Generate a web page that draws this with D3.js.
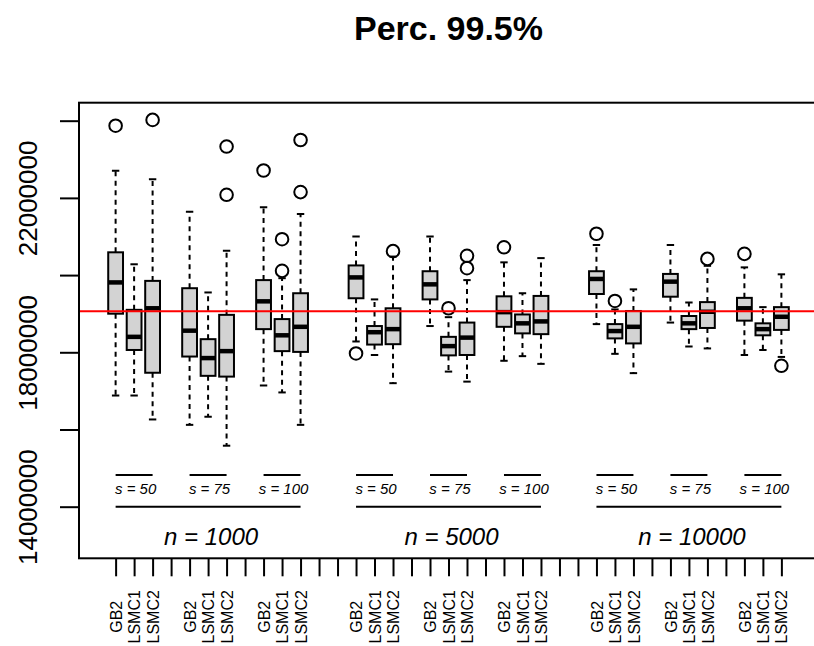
<!DOCTYPE html>
<html>
<head>
<meta charset="utf-8">
<script src="https://cdn.jsdelivr.net/npm/d3@7"></script>
<style>
  html, body { margin: 0; padding: 0; background: #fff; }
  svg { display: block; font-family: "Liberation Sans", Arial, sans-serif; }
</style>
</head>
<body>
<svg id="chart" width="814" height="646"></svg>
<script>
// ---------- data (values in millions) ----------
const title = "Perc. 99.5%";
const methods = ["GB2", "LSMC1", "LSMC2"];
const sValues = [50, 75, 100];
const nValues = [1000, 5000, 10000];

// order: n=1000 (s=50: GB2,LSMC1,LSMC2; s=75 ...; s=100 ...), n=5000 ..., n=10000 ...
const whiskerLow  = [16.88,16.88,16.26, 16.12,16.33,15.58, 17.14,16.96,16.12,
                     18.28,17.93,17.20, 18.68,17.50,17.24, 17.78,17.90,17.70,
                     18.73,17.96,17.46, 18.77,18.15,18.10, 17.93,18.06,17.88];
const lowerQuart  = [19.00,18.06,17.47, 17.89,17.39,17.37, 18.60,18.03,18.01,
                     19.40,18.20,18.21, 19.37,17.92,17.93, 18.66,18.49,18.47,
                     19.51,18.36,18.23, 19.44,18.60,18.63, 18.82,18.44,18.58];
const medians     = [19.81,18.40,19.14, 18.56,17.85,18.03, 19.32,18.44,18.66,
                     19.94,18.52,18.60, 19.76,18.16,18.38, 19.04,18.75,18.80,
                     19.90,18.55,18.66, 19.83,18.75,19.05, 19.14,18.60,18.92];
const upperQuart  = [20.59,19.10,19.85, 19.66,18.34,18.97, 19.87,18.86,19.53,
                     20.25,18.68,19.14, 20.10,18.40,18.77, 19.45,18.98,19.46,
                     20.10,18.73,19.07, 20.03,18.94,19.30, 19.41,18.75,19.17];
const whiskerHigh = [22.70,20.28,22.48, 21.64,19.55,20.63, 21.76,19.92,21.58,
                     21.00,19.37,20.48, 21.00,18.91,19.87, 20.33,19.53,20.44,
                     20.78,19.11,19.63, 20.78,19.29,20.24, 20.20,19.17,20.02];
const outliers    = [[23.87],[],[24.02], [],[],[23.33,22.08], [22.71],[20.93,20.11],[23.50,22.15],
                     [17.97],[],[20.62], [],[19.14],[20.50,20.18], [20.72],[],[],
                     [21.07],[19.33],[], [],[],[20.42], [20.55],[],[17.65]];
const referenceValue = 19.06;

const yTickValues = [14, 16, 18, 20, 22, 24];
const yTickLabels = ["14000000", "", "18000000", "", "22000000", ""];

// ---------- layout ----------
const SC = 1e6;
const svg = d3.select("#chart");
const pL = 79, pR = 818, pT = 102.7, pB = 558.3;
const nPos = 37;
const pad = nPos * 0.04;
const x = d3.scaleLinear().domain([0.5 - pad, nPos + 0.5 + pad]).range([pL, pR]);
const y = d3.scaleLinear().domain([12.663 * SC, 24.466 * SC]).range([pB, pT]);
const font = '"Liberation Sans", Arial, sans-serif';

// box records
const boxes = [];
nValues.forEach((n, ni) => sValues.forEach((s, si) => methods.forEach((m, mi) => {
  const i = ni * 9 + si * 3 + mi;
  boxes.push({
    pos: 1 + ni * 13 + si * 4 + mi, method: m,
    lo: whiskerLow[i] * SC, q1: lowerQuart[i] * SC, med: medians[i] * SC,
    q3: upperQuart[i] * SC, hi: whiskerHigh[i] * SC, out: outliers[i].map(v => v * SC)
  });
})));
const labelAt = new Map(boxes.map(b => [b.pos, b.method]));

// title
svg.append("text").attr("x", (pL + pR) / 2).attr("y", 40)
  .attr("text-anchor", "middle").attr("font-weight", "bold").attr("font-size", 34)
  .attr("font-family", font).text(title);

// clip for plot region
svg.append("clipPath").attr("id", "clip").append("rect")
  .attr("x", pL).attr("y", pT).attr("width", pR - pL).attr("height", pB - pT);

const plot = svg.append("g").attr("clip-path", "url(#clip)");

const bw = (x(2) - x(1)) * 0.8;
const g = plot.selectAll("g.box").data(boxes).join("g").attr("class", "box");

// whiskers
g.append("line").attr("x1", d => x(d.pos)).attr("x2", d => x(d.pos))
  .attr("y1", d => y(d.q3)).attr("y2", d => y(d.hi))
  .attr("stroke", "#000").attr("stroke-width", 2).attr("stroke-dasharray", "5,4.5");
g.append("line").attr("x1", d => x(d.pos)).attr("x2", d => x(d.pos))
  .attr("y1", d => y(d.q1)).attr("y2", d => y(d.lo))
  .attr("stroke", "#000").attr("stroke-width", 2).attr("stroke-dasharray", "5,4.5");
// staples
["hi", "lo"].forEach(k => {
  g.append("line").attr("x1", d => x(d.pos) - bw / 4).attr("x2", d => x(d.pos) + bw / 4)
    .attr("y1", d => y(d[k])).attr("y2", d => y(d[k]))
    .attr("stroke", "#000").attr("stroke-width", 2);
});
// box
g.append("rect").attr("x", d => x(d.pos) - bw / 2).attr("width", bw)
  .attr("y", d => y(d.q3)).attr("height", d => y(d.q1) - y(d.q3))
  .attr("fill", "#d3d3d3").attr("stroke", "#000").attr("stroke-width", 2);
// median
g.append("line").attr("x1", d => x(d.pos) - bw / 2).attr("x2", d => x(d.pos) + bw / 2)
  .attr("y1", d => y(d.med)).attr("y2", d => y(d.med))
  .attr("stroke", "#000").attr("stroke-width", 4.5);
// outliers
g.selectAll("circle").data(d => d.out.map(v => ({ pos: d.pos, v }))).join("circle")
  .attr("cx", d => x(d.pos)).attr("cy", d => y(d.v)).attr("r", 6.3)
  .attr("fill", "none").attr("stroke", "#000").attr("stroke-width", 2);

// reference line
plot.append("line").attr("x1", pL).attr("x2", pR)
  .attr("y1", y(referenceValue * SC)).attr("y2", y(referenceValue * SC))
  .attr("stroke", "#ff0000").attr("stroke-width", 2);

// group annotations
const ann = svg.append("g").attr("font-family", font).attr("font-style", "italic");
nValues.forEach((n, ni) => {
  sValues.forEach((s, si) => {
    const p0 = 1 + ni * 13 + si * 4;
    ann.append("line").attr("x1", x(p0)).attr("x2", x(p0 + 2))
      .attr("y1", 475).attr("y2", 475).attr("stroke", "#000").attr("stroke-width", 2);
    ann.append("text").attr("x", x(p0 + 1) + 1.5).attr("y", 494).attr("text-anchor", "middle")
      .attr("font-size", 15).text("s = " + s);
  });
  const q0 = 1 + ni * 13;
  ann.append("line").attr("x1", x(q0)).attr("x2", x(q0 + 10))
    .attr("y1", 506.7).attr("y2", 506.7).attr("stroke", "#000").attr("stroke-width", 2);
  ann.append("text").attr("x", x(q0 + 5) + 3).attr("y", 545).attr("text-anchor", "middle")
    .attr("font-size", 24).text("n = " + n);
});

// axes
const yAxis = d3.axisLeft(y).tickValues(yTickValues.map(v => v * SC))
  .tickSize(19).tickSizeOuter(0)
  .tickFormat((d, i) => yTickLabels[i]);
const ya = svg.append("g").attr("transform", `translate(${pL},0)`).call(yAxis);
ya.select(".domain").remove();
ya.selectAll(".tick line").attr("stroke-width", 2);
ya.selectAll(".tick text").attr("x", 0).attr("dy", null)
  .attr("transform", "translate(-42,0) rotate(-90)")
  .attr("text-anchor", "middle").attr("font-size", 26).attr("font-family", font).attr("fill", "#000");

const xAxis = d3.axisBottom(x).tickValues(d3.range(1, nPos + 1))
  .tickSize(18).tickSizeOuter(0)
  .tickFormat(p => labelAt.get(p) || "");
const xa = svg.append("g").attr("transform", `translate(0,${pB})`).call(xAxis);
xa.select(".domain").remove();
xa.selectAll(".tick line").attr("stroke-width", 2);
xa.selectAll(".tick text").attr("y", 0).attr("x", 0).attr("dy", "0.35em")
  .attr("transform", "translate(0,58.5) rotate(-90)")
  .attr("text-anchor", "middle").attr("font-size", 16).attr("font-family", font).attr("fill", "#000");

// plot frame
svg.append("rect").attr("x", pL).attr("y", pT).attr("width", pR - pL).attr("height", pB - pT)
  .attr("fill", "none").attr("stroke", "#000").attr("stroke-width", 2);
</script>
</body>
</html>
